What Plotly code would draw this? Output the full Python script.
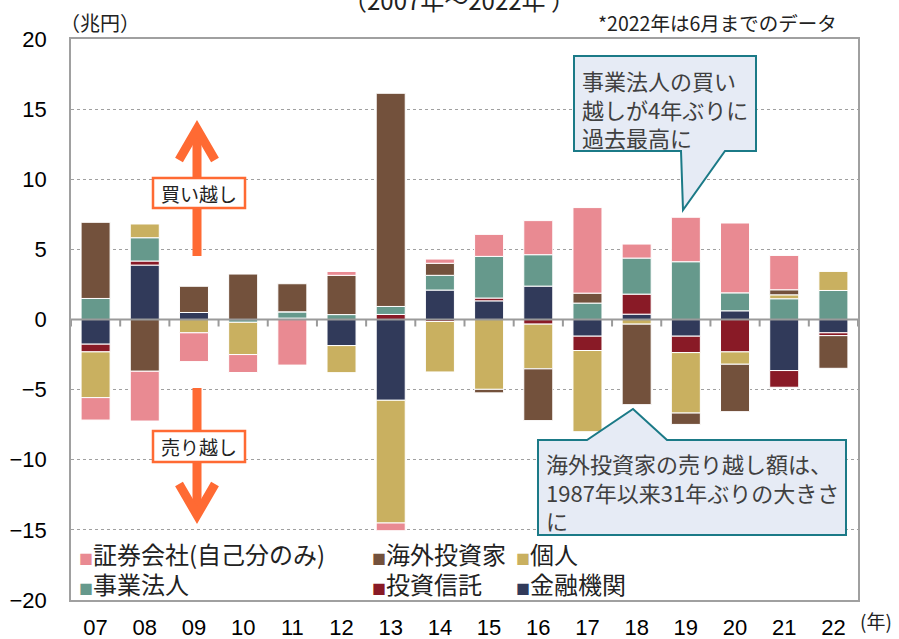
import plotly.graph_objects as go

years = ["07", "08", "09", "10", "11", "12", "13", "14", "15", "16", "17", "18", "19", "20", "21", "22"]

# 兆円
kinyu = [-1.76, 3.88, 0.5, 0.0, 0.1, -1.86, -5.76, 2.1, 1.33, 2.38, -1.19, 0.38, -1.19, 0.62, -3.64, -0.95]      # 金融機関
toshin = [-0.55, 0.29, 0.0, 0.0, 0.0, 0.0, 0.36, -0.14, 0.2, -0.33, -1.02, 1.43, -1.17, -2.31, -1.19, -0.2]      # 投資信託
jigyo = [1.5, 1.66, 0.0, -0.2, 0.45, 0.35, 0.57, 1.05, 2.97, 2.24, 1.17, 2.57, 4.12, 1.28, 1.48, 2.07]         # 事業法人
kojin = [-3.26, 0.98, -0.95, -2.3, 0.0, -1.93, -8.75, -3.6, -4.98, -3.19, -5.79, -0.33, -4.31, -0.88, 0.28, 1.38]  # 個人
kaigai = [5.43, -3.69, 1.87, 3.24, 2.0, 2.8, 15.2, 0.86, -0.25, -3.69, 0.71, -5.74, -0.81, -3.38, 0.36, -2.33]  # 海外投資家
shoken = [-1.6, -3.55, -2.05, -1.28, -3.25, 0.27, -0.55, 0.3, 1.57, 2.43, 6.1, 1.0, 3.17, 4.98, 2.45, 0.0]     # 証券会社

series = [
    ("金融機関", kinyu, "#313A5A"),
    ("投資信託", toshin, "#891A26"),
    ("事業法人", jigyo, "#66998C"),
    ("個人", kojin, "#C9B060"),
    ("海外投資家", kaigai, "#73513C"),
    ("証券会社(自己分のみ)", shoken, "#E98A92"),
]
colors = {n: c for n, _, c in series}

W, H = 899, 639
L, R, T, B = 71, 858, 39, 600
def px(x):
    return (x - L) / (R - L)
def py(y):
    return (B - y) / (B - T)

JP = "Noto Sans CJK JP"
NUM = "Liberation Sans"
ORANGE = "#FF6A33"
TEAL = "#1B7A87"

fig = go.Figure()
for name, vals, col in series:
    fig.add_trace(go.Bar(
        x=years, y=vals, name=name, marker_color=col,
        marker_line_color="white", marker_line_width=1, showlegend=False,
    ))

shapes = []
# zero axis line and boundary ticks
shapes.append(dict(type="line", xref="paper", yref="y", x0=0, x1=1, y0=0, y1=0,
                   line=dict(color="#9A9A9A", width=2), layer="above"))
for i in range(len(years) + 1):
    shapes.append(dict(type="line", xref="x", yref="y", x0=i - 0.5, x1=i - 0.5,
                       ysizemode="pixel", yanchor=0, y0=0, y1=-7,
                       line=dict(color="#9A9A9A", width=2), layer="above"))

# orange arrows
def seg(x0, y0, x1, y1, w):
    return dict(type="line", xref="paper", yref="paper", x0=px(x0), y0=py(y0), x1=px(x1), y1=py(y1),
                line=dict(color=ORANGE, width=w), layer="above")

def path(pts, close=False, **kw):
    d = "M" + " L".join(f"{px(a):.5f},{py(b):.5f}" for a, b in pts)
    if close:
        d += " Z"
    return dict(type="path", xref="paper", yref="paper", path=d, layer="above", **kw)

shapes.append(seg(197, 256, 197, 132, 9))
shapes.append(path([(179, 160), (197, 129), (215, 160)], line=dict(color=ORANGE, width=9)))
shapes.append(dict(type="rect", xref="paper", yref="paper", x0=px(153), x1=px(245), y0=py(178), y1=py(208),
                   fillcolor="white", line=dict(color=ORANGE, width=2.5), layer="above"))
shapes.append(seg(197, 388, 197, 512, 9))
shapes.append(path([(179, 484), (197, 515), (215, 484)], line=dict(color=ORANGE, width=9)))
shapes.append(dict(type="rect", xref="paper", yref="paper", x0=px(153), x1=px(245), y0=py(431), y1=py(462),
                   fillcolor="white", line=dict(color=ORANGE, width=2.5), layer="above"))

# callouts
shapes.append(path([(574, 56), (756, 56), (756, 151), (725, 151), (683, 210), (681, 151), (574, 151)], close=True,
                   fillcolor="#E6EBF5", line=dict(color=TEAL, width=2)))
shapes.append(path([(538, 440), (587, 440), (633, 409), (667, 440), (846, 440), (846, 535), (538, 535)], close=True,
                   fillcolor="#E6EBF5", line=dict(color=TEAL, width=2)))

ann = []
def text(x, y, s, size, xa="left", ya="middle", color="#222222", family=JP, align="left"):
    ann.append(dict(x=px(x), y=py(y), xref="paper", yref="paper", text=s, showarrow=False,
                    xanchor=xa, yanchor=ya, align=align, font=dict(size=size, color=color, family=family)))

text(459, 0, "（2007年～2022年 ）", 24, xa="center")
text(58, 22, "（兆円）", 20)
text(839, 23, "*2022年は6月までのデータ", 19.5, xa="right")
text(876, 620, "(年)", 19, xa="center", family=JP)
text(199, 193, "買い越し", 19, xa="center")
text(199, 446, "売り越し", 19, xa="center")
text(580, 108, "事業法人の買い<br>越しが4年ぶりに<br>過去最高に", 22, color="#404040")
text(544, 491, "海外投資家の売り越し額は、<br>1987年以来31年ぶりの大きさ<br>に", 22, color="#404040")

legend_rows = [
    [("証券会社(自己分のみ)", 77), ("海外投資家", 370), ("個人", 514)],
    [("事業法人", 77), ("投資信託", 370), ("金融機関", 514)],
]
for (row, yy) in zip(legend_rows, [553, 583]):
    for name, xx in row:
        s = f"<span style='color:{colors[name]};font-size:14px'>■</span>{name}"
        text(xx, yy, s, 24, color="#222222")

fig.update_layout(
    width=W, height=H,
    margin=dict(l=L, r=W - R, t=T, b=H - B, autoexpand=False),
    plot_bgcolor="white", paper_bgcolor="white",
    barmode="relative", bargap=0.41,
    shapes=shapes, annotations=ann,
    font=dict(family=NUM, color="#000000"),
    xaxis=dict(type="category", categoryorder="array", categoryarray=years, range=[-0.5, len(years) - 0.5],
               showline=True, mirror=True, linecolor="#A0A0A0", linewidth=1.5, automargin=False,
               showgrid=False, ticks="", ticklabelstandoff=7,
               tickfont=dict(size=22, family=NUM, color="#000000")),
    yaxis=dict(range=[-20, 20], tickvals=[-20, -15, -10, -5, 0, 5, 10, 15, 20],
               showline=True, mirror=True, linecolor="#A0A0A0", linewidth=1.5, automargin=False,
               showgrid=True, gridcolor="#A0A0A0", gridwidth=1, griddash="dot",
               zeroline=False, ticks="", ticklabelstandoff=18,
               tickfont=dict(size=22, family=NUM, color="#000000")),
)

fig.write_html("out.html", config={"displayModeBar": False},
               post_script="document.body.style.margin='0px';")
